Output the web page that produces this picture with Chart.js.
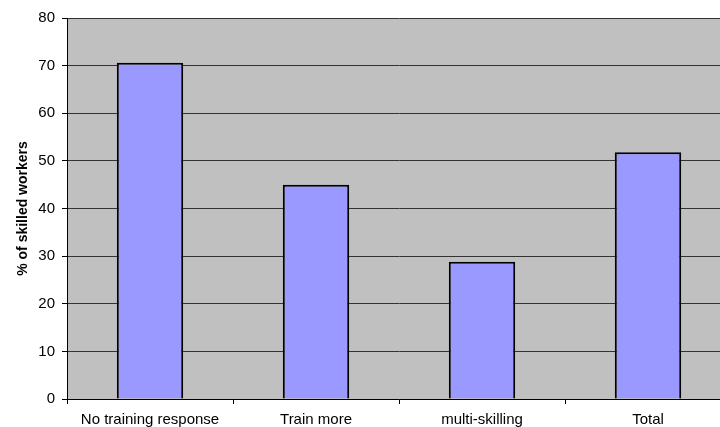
<!DOCTYPE html>
<html>
<head>
<meta charset="utf-8">
<script src="https://cdn.jsdelivr.net/npm/chart.js@4"></script>
<style>
  html, body { margin: 0; padding: 0; background: #fff; overflow: hidden; }
  #wrap { width: 731px; height: 427px; }
</style>
</head>
<body>
<div id="wrap"><canvas id="c" width="731" height="427"></canvas></div>
<script>
// Share of skilled workers by training response
const categories = ['No training response', 'Train more', 'multi-skilling', 'Total'];
const skilledShare = [70.6, 45.0, 28.8, 51.8];
const yTicks = [0, 10, 20, 30, 40, 50, 60, 70, 80];

const FONT = '"Liberation Sans", Arial, sans-serif';

// Grey plot-area background
const plotBackground = {
  id: 'plotBackground',
  beforeDraw(chart) {
    const { ctx, chartArea: a } = chart;
    ctx.save();
    ctx.fillStyle = '#C0C0C0';
    ctx.fillRect(a.left, a.top, a.right - a.left, a.bottom - a.top);
    ctx.restore();
  }
};

new Chart(document.getElementById('c'), {
  type: 'bar',
  data: {
    labels: categories,
    datasets: [{
      data: skilledShare,
      backgroundColor: '#9999FF',
      borderColor: '#000000',
      borderWidth: 2,
      barPercentage: 0.4,
      categoryPercentage: 1.0
    }]
  },
  options: {
    responsive: false,
    animation: false,
    devicePixelRatio: 1,
    layout: { padding: { top: 18, right: 0, bottom: 0, left: 0 } },
    plugins: { legend: { display: false }, tooltip: { enabled: false } },
    scales: {
      x: {
        grid: {
          offset: true,
          drawOnChartArea: false,
          drawTicks: true,
          tickLength: 5,
          tickColor: '#000'
        },
        border: { color: '#000', width: 1 },
        ticks: { color: '#000', font: { family: FONT, size: 15 }, padding: 7, maxRotation: 0 },
        afterFit(scale) { scale.height = 28; }
      },
      y: {
        min: 0,
        max: 80,
        afterBuildTicks(scale) { scale.ticks = yTicks.map(v => ({ value: v })); },
        grid: {
          color: '#333333',
          lineWidth: 1,
          tickLength: 5,
          tickColor: '#000'
        },
        border: { color: '#000', width: 1 },
        ticks: { color: '#000', font: { family: FONT, size: 15 }, padding: 7 },
        title: {
          display: true,
          text: '% of skilled workers',
          color: '#000',
          font: { family: FONT, size: 14, weight: 'bold' },
          padding: { top: 15, bottom: 0 }
        },
        afterFit(scale) { scale.width = 67; }
      }
    }
  },
  plugins: [plotBackground]
});
</script>
</body>
</html>
